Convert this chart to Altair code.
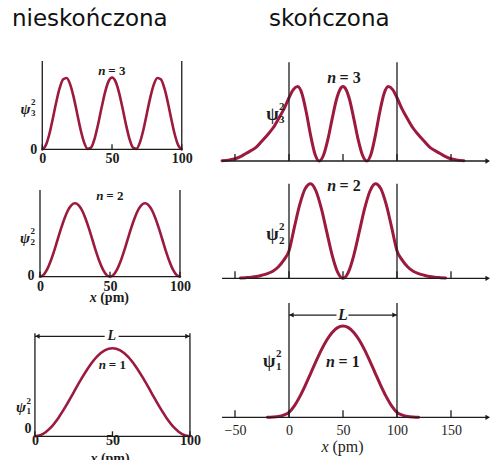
import altair as alt
import pandas as pd

# ----------------------------- data -----------------------------
# infinite well (left column): x grids in pm and psi^2 values
grid_fine = [0, 2.5, 5, 7.5, 10, 12.5, 15, 17.5, 20, 22.5, 25, 27.5, 30, 32.5, 35,
             37.5, 40, 42.5, 45, 47.5, 50, 52.5, 55, 57.5, 60, 62.5, 65, 67.5, 70,
             72.5, 75, 77.5, 80, 82.5, 85, 87.5, 90, 92.5, 95, 97.5, 100]
grid_coarse = [0, 5, 10, 15, 20, 25, 30, 35, 40, 45, 50, 55, 60, 65, 70, 75, 80, 85,
               90, 95, 100]

inf_n3 = [0, .055, .206, .422, .655, .854, .976, .994, .905, .727, .5, .273, .096, .006,
          .025, .146, .346, .578, .794, .946, 1, .946, .794, .578, .346, .146, .025, .006,
          .096, .273, .5, .727, .905, .994, .976, .854, .655, .422, .206, .055, 0]
inf_n2 = [0, .024, .095, .206, .345, .5, .655, .794, .905, .976, 1, .976, .905, .794,
          .655, .5, .345, .206, .095, .024, 0, .024, .095, .206, .345, .5, .655, .794,
          .905, .976, 1, .976, .905, .794, .655, .5, .345, .206, .095, .024, 0]
inf_n1 = [0, .024, .095, .206, .345, .5, .655, .794, .905, .976, 1, .976, .905, .794,
          .655, .5, .345, .206, .095, .024, 0]

# finite well (right column)
fin3_x = [-62, -55, -50, -45, -40, -35, -30, -25, -20, -15, -10, -5, 0, 4, 8, 12, 16,
          20, 24, 28, 32, 36, 40, 44, 47, 50, 53, 56, 60, 64, 68, 72, 76, 80, 84, 88,
          92, 96, 100, 105, 110, 115, 120, 125, 130, 135, 140, 145, 150, 155, 162]
fin3_y = [0.004, 0.015, 0.03, 0.06, 0.10, 0.14, 0.19, 0.27, 0.35, 0.44, 0.56, 0.69,
          0.85, 0.96, 1.0, 0.905, 0.655, 0.345, 0.095, 0.0, 0.08, 0.29, 0.57, 0.83,
          0.955, 1.0, 0.955, 0.83, 0.57, 0.29, 0.08, 0.0, 0.095, 0.345, 0.655, 0.905,
          1.0, 0.96, 0.85, 0.69, 0.56, 0.44, 0.35, 0.27, 0.19, 0.14, 0.10, 0.06, 0.03,
          0.015, 0.004]
fin2_x = [-45, -40, -35, -30, -25, -20, -15, -10, -5, 0, 5, 10, 15, 20, 25, 30, 35, 40,
          45, 50, 55, 60, 65, 70, 75, 80, 85, 90, 95, 100, 105, 110, 115, 120, 125, 130,
          135, 140, 145]
fin2_y = [0.003, 0.007, 0.012, 0.02, 0.033, 0.05, 0.075, 0.12, 0.19, 0.29, 0.54, 0.78,
          0.947, 1.0, 0.922, 0.735, 0.487, 0.243, 0.065, 0.0, 0.065, 0.243, 0.487, 0.735,
          0.922, 1.0, 0.947, 0.78, 0.54, 0.29, 0.19, 0.12, 0.075, 0.05, 0.033, 0.02,
          0.012, 0.007, 0.003]
fin1_x = [-20, -15, -10, -5, 0, 5, 10, 15, 20, 25, 30, 35, 40, 45, 50, 55, 60, 65, 70,
          75, 80, 85, 90, 95, 100, 105, 110, 115, 120]
fin1_y = [0.0, 0.003, 0.009, 0.024, 0.055, 0.125, 0.226, 0.347, 0.479, 0.612, 0.738,
          0.846, 0.929, 0.982, 1.0, 0.982, 0.929, 0.846, 0.738, 0.612, 0.479, 0.347,
          0.226, 0.125, 0.055, 0.024, 0.009, 0.003, 0.0]

well_edges = [0, 100]
inf_ticks = [0, 50, 100]
fin_ticks = [-50, 0, 50, 100, 150]
col_titles = ["nieskończona", "skończona"]
axis_name = ("x", "(pm)")

# ----------------------------- style -----------------------------
CURVE = "#9c1a3e"
INK = "#1c1c1c"
SERIF = "Liberation Serif"


def label_axis(values, pad, fs, bold):
    return alt.Axis(values=values, domain=False, ticks=False, tickSize=0, grid=False,
                    labelPadding=pad, labelBaseline="middle", labelFont=SERIF,
                    labelFontSize=fs, labelFontWeight="bold" if bold else "normal",
                    labelColor=INK, labelFlush=False, labelOverlap=False)


def text_layer(X, Y, x, y, t, **mk):
    return (alt.Chart(pd.DataFrame({"x": [x], "y": [y], "t": [t]}))
            .mark_text(font=SERIF, baseline="middle", color=INK, **mk)
            .encode(x=X, y=Y, text="t:N"))


def panel(cx, cy, n, p):
    xs = alt.Scale(domain=p["xdom"], nice=False, zero=False)
    ys = alt.Scale(domain=p["ydom"], nice=False, zero=False)
    X = alt.X("x:Q", scale=xs, axis=p.get("axis"), title=None)
    Y = alt.Y("y:Q", scale=ys, axis=None)
    layers = []
    layers.append(
        alt.Chart(pd.DataFrame({"x": cx, "y": cy}))
        .mark_line(color=CURVE, strokeWidth=p["lw"], interpolate="monotone",
                   strokeCap="round", strokeJoin="round")
        .encode(x=X, y=Y))
    # walls
    layers.append(
        alt.Chart(pd.DataFrame({"x": well_edges, "y": [0, 0],
                                "y2": [p["wall_top"]] * 2}))
        .mark_rule(color=INK, strokeWidth=1.3)
        .encode(x=X, y=Y, y2="y2:Q"))
    # x axis line
    layers.append(
        alt.Chart(pd.DataFrame({"x": [p["span"][0]], "x2": [p["span"][1]], "y": [0]}))
        .mark_rule(color=INK, strokeWidth=1.3)
        .encode(x=X, x2="x2:Q", y=Y))
    # tick marks
    layers.append(
        alt.Chart(pd.DataFrame({"x": p["ticks"], "y": [0] * len(p["ticks"]),
                                "y2": [p["tick_h"]] * len(p["ticks"])}))
        .mark_rule(color=INK, strokeWidth=1.3)
        .encode(x=X, y=Y, y2="y2:Q"))
    if p.get("arrow"):
        layers.append(
            alt.Chart(pd.DataFrame({"x": [p["span"][1]], "y": [0]}))
            .mark_point(shape="triangle-right", filled=True, size=28, color=INK,
                        opacity=1)
            .encode(x=X, y=Y))
    # psi label: psi, superscript 2 and subscript n stacked
    px, py = p["psi"]
    fs = p["psi_fs"]
    sfs = round(fs * 0.62)
    layers.append(text_layer(X, Y, px, py, "ψ", fontSize=fs, fontStyle=p["psi_style"],
                             fontWeight="bold", align="right", dy=2))
    layers.append(text_layer(X, Y, px, py, "2", fontSize=sfs, fontWeight="bold",
                             align="left", dx=0.5, dy=-0.33 * fs))
    layers.append(text_layer(X, Y, px, py, str(n), fontSize=sfs, fontWeight="bold",
                             align="left", dx=0.5, dy=0.4 * fs))
    # n label
    nx, ny = p["nlab"]
    nfs = p["n_fs"]
    layers.append(text_layer(X, Y, nx, ny, "n", fontSize=nfs, fontStyle="italic",
                             fontWeight="bold", align="right", dx=-0.5 * nfs))
    layers.append(text_layer(X, Y, nx, ny, f"= {n}", fontSize=nfs, fontWeight="bold",
                             align="left", dx=-0.28 * nfs))
    if p.get("zero") is not None:
        zx, zy = p["zero"]
        layers.append(text_layer(X, Y, zx, zy, "0", fontSize=14, fontWeight="bold",
                                 align="center"))
    if p.get("xname") is not None:
        tx, ty, tfs, tw = p["xname"]
        layers.append(text_layer(X, Y, tx, ty, axis_name[0], fontSize=tfs,
                                 fontStyle="italic", fontWeight=tw, align="right",
                                 dx=-0.9 * tfs))
        layers.append(text_layer(X, Y, tx, ty, axis_name[1], fontSize=tfs,
                                 fontWeight=tw, align="left", dx=-0.66 * tfs))
    if p.get("L") is not None:
        ly, g0, g1, lx, ah = p["L"]
        layers.append(
            alt.Chart(pd.DataFrame({"x": [0, g1], "x2": [g0, 100], "y": [ly, ly]}))
            .mark_rule(color=INK, strokeWidth=1.2)
            .encode(x=X, x2="x2:Q", y=Y))
        layers.append(
            alt.Chart(pd.DataFrame({"x": [ah, 100 - ah], "y": [ly, ly],
                                    "s": ["triangle-left", "triangle-right"]}))
            .mark_point(filled=True, size=26, color=INK, opacity=1)
            .encode(x=X, y=Y, shape=alt.Shape("s:N", scale=None)))
        layers.append(text_layer(X, Y, lx, ly, "L", fontSize=p["L_fs"],
                                 fontStyle="italic", fontWeight="bold", align="center"))
    return alt.layer(*layers).properties(width=p["w"], height=p["h"])


# ----------------------------- left column -----------------------------
L1 = dict(xdom=[-21.7, 118.1], ydom=[0, 1.23], w=195, h=88.3, wall_top=1.23,
          span=[0, 100], ticks=inf_ticks, tick_h=0.07,
          axis=label_axis(inf_ticks, 9, 14, True),
          psi=(-8.5, 0.586), psi_fs=15, psi_style="italic", nlab=(50, 1.09), n_fs=13,
          zero=(-6.1, -0.014), lw=2.6)
L2 = dict(xdom=[-20.0, 119.3], ydom=[0, 1.726], w=195, h=126.7, wall_top=1.18,
          span=[0, 100], ticks=inf_ticks, tick_h=0.068,
          axis=label_axis(inf_ticks, 9.3, 14, True), xname=(49.6, -0.29, 14, "bold"),
          psi=(-7.1, 0.55), psi_fs=15, psi_style="italic", nlab=(50, 1.10), n_fs=13,
          zero=(-6.4, 0.01), lw=2.6)
L3 = dict(xdom=[-14.8, 111.0], ydom=[0, 1.81], w=195, h=159.3, wall_top=1.17,
          span=[0, 100], ticks=inf_ticks, tick_h=0.057,
          axis=label_axis(inf_ticks, 4.5, 14, True), xname=(48.5, -0.26, 14, "bold"),
          psi=(-5.8, 0.35), psi_fs=15, psi_style="italic", nlab=(50, 0.81), n_fs=13,
          zero=(-4.5, 0.08), lw=2.6, L=(1.136, 45, 54, 49.5, 1.6), L_fs=14)

# ----------------------------- right column -----------------------------
RX = [-68.52, 187.04]
R1 = dict(xdom=RX, ydom=[0, 1.344], w=276, h=100, wall_top=1.327,
          span=[-62, 184], ticks=fin_ticks, tick_h=0.094, arrow=True, axis=None,
          psi=(-9.7, 0.65), psi_fs=18, psi_style="normal", nlab=(51, 1.12), n_fs=16,
          lw=3)
R2 = dict(xdom=RX, ydom=[0, 1.239], w=276, h=117.3, wall_top=1.0,
          span=[-62, 184], ticks=fin_ticks, tick_h=0.074, arrow=True, axis=None,
          psi=(-9.7, 0.475), psi_fs=18, psi_style="normal", nlab=(51, 0.975), n_fs=16,
          lw=3)
R3 = dict(xdom=RX, ydom=[0, 1.515], w=276, h=138.3, wall_top=1.252,
          span=[-62, 184], ticks=fin_ticks, tick_h=0.077, arrow=True,
          axis=label_axis(fin_ticks, 13.5, 14, False), xname=(50, -0.33, 16, "normal"),
          psi=(-12.5, 0.63), psi_fs=18, psi_style="normal", nlab=(50, 0.61), n_fs=16,
          lw=3, L=(1.12, 44, 55, 50, 2.3), L_fs=16)

TITLE_FS = 23
TITLE_OFFSET = 11.6
left_col = alt.vconcat(
    panel(grid_fine, inf_n3, 3, L1),
    panel(grid_fine, inf_n2, 2, L2),
    panel(grid_coarse, inf_n1, 1, L3),
    spacing=0, bounds="flush",
    title=alt.TitleParams(col_titles[0], font="DejaVu Sans", fontSize=TITLE_FS,
                          fontWeight="normal", anchor="start", baseline="alphabetic",
                          offset=TITLE_OFFSET, color="#111111"))
right_col = alt.vconcat(
    panel(fin3_x, fin3_y, 3, R1),
    panel(fin2_x, fin2_y, 2, R2),
    panel(fin1_x, fin1_y, 1, R3),
    spacing=0, bounds="flush",
    title=alt.TitleParams(col_titles[1], font="DejaVu Sans", fontSize=TITLE_FS,
                          fontWeight="normal", anchor="start", baseline="alphabetic",
                          offset=TITLE_OFFSET, dx=54, color="#111111"))

chart = (alt.hconcat(left_col, right_col, spacing=8)
         .properties(padding={"left": 12, "top": 7, "right": 0, "bottom": 0},
                     background="white")
         .configure_view(stroke=None))

chart.save("out.html", embed_options={"renderer": "svg", "actions": False})
